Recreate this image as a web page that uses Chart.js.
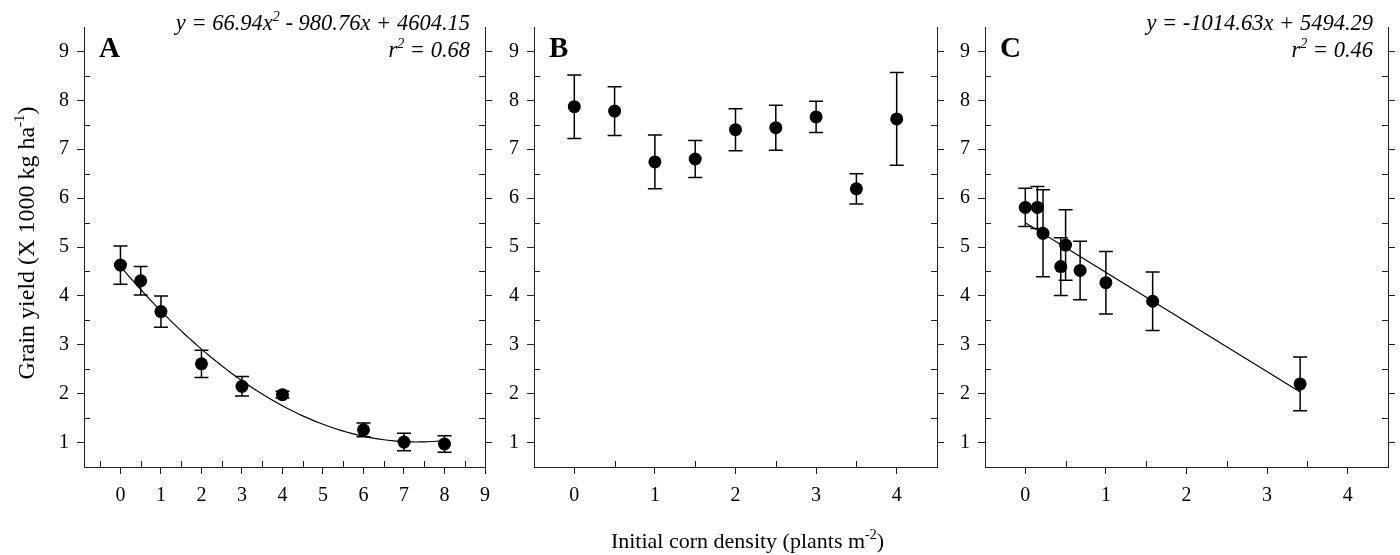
<!DOCTYPE html>
<html lang="en">
<head>
  <meta charset="UTF-8">
  <title>Grain yield vs initial corn density</title>
  <script src="https://cdn.jsdelivr.net/npm/chart.js@4.4.0/dist/chart.umd.min.js"></script>
  <style>
    html, body { margin: 0; padding: 0; background: #fff; }
    #wrap { position: relative; width: 1400px; height: 555px; }
    #wrap canvas { position: absolute; top: 0; }
  </style>
</head>
<body>
  <div id="wrap">
    <canvas id="chartA" width="500" height="555" style="left:0px"></canvas>
    <canvas id="chartB" width="449" height="555" style="left:500px"></canvas>
    <canvas id="chartC" width="451" height="555" style="left:949px"></canvas>
  </div>
  <script>
    // panel A: x = initial corn density, y = yield (1000 kg/ha), err = bar half-length
    const aX = [0, 0.5, 1, 2, 3, 4, 6, 7, 8];
    const aY = [4.63, 4.31, 3.68, 2.61, 2.15, 1.98, 1.26, 1.01, 0.97];
    const aErr = [0.39, 0.29, 0.32, 0.28, 0.20, 0.07, 0.14, 0.18, 0.17];
    const aFit = [66.94, -980.76, 4604.15];   // quadratic, kg/ha

    // panel B
    const bX = [0, 0.5, 1, 1.5, 2, 2.5, 3, 3.5, 4];
    const bY = [7.87, 7.78, 6.74, 6.80, 7.40, 7.44, 7.66, 6.19, 7.62];
    const bErr = [0.65, 0.50, 0.55, 0.38, 0.43, 0.46, 0.32, 0.31, 0.95];

    // panel C
    const cX = [0, 0.15, 0.22, 0.44, 0.50, 0.68, 1.0, 1.58, 3.41];
    const cY = [5.81, 5.81, 5.28, 4.60, 5.04, 4.52, 4.27, 3.89, 2.20];
    const cErr = [0.39, 0.43, 0.89, 0.59, 0.72, 0.60, 0.64, 0.60, 0.55];
    const cFit = [-1014.63, 5494.29];          // linear, kg/ha

    // ticks
    const yTicks = [1, 2, 3, 4, 5, 6, 7, 8, 9];
    const yMinor = [1.5, 2.5, 3.5, 4.5, 5.5, 6.5, 7.5, 8.5];
    const xTicksA = [0, 1, 2, 3, 4, 5, 6, 7, 8, 9];
    const xMinorA = [-0.5, 0.5, 1.5, 2.5, 3.5, 4.5, 5.5, 6.5, 7.5, 8.5];
    const xTicksBC = [0, 1, 2, 3, 4];
    const xMinorBC = [0.5, 1.5, 2.5, 3.5];

    const FONT = '"Liberation Serif", "Times New Roman", serif';
    const AXIS = '#222';

    // fitted curves from the printed regression equations
    const aCurve = [];
    for (let i = 0; i <= 80; i++) {
      const x = i / 10;
      aCurve.push({ x: x, y: (aFit[0] * x * x + aFit[1] * x + aFit[2]) / 1000 });
    }
    const cLine = [cX[0], cX[cX.length - 1]].map(x => ({ x: x, y: (cFit[0] * x + cFit[1]) / 1000 }));

    // text with superscripts: parts = [[text, isSup], ...]
    function drawRich(ctx, parts, x, y, align, size, style) {
      const base = style + ' ' + size + 'px ' + FONT;
      const sup = style + ' ' + Math.round(size * 0.62) + 'px ' + FONT;
      let w = 0;
      parts.forEach(p => { ctx.font = p[1] ? sup : base; w += ctx.measureText(p[0]).width; });
      let cx = align === 'right' ? x - w : (align === 'center' ? x - w / 2 : x);
      ctx.textAlign = 'left';
      ctx.textBaseline = 'alphabetic';
      parts.forEach(p => {
        ctx.font = p[1] ? sup : base;
        ctx.fillText(p[0], cx, p[1] ? y - size * 0.42 : y);
        cx += ctx.measureText(p[0]).width;
      });
    }

    // error bars, minor ticks and panel text
    const panelDeco = {
      id: 'panelDeco',
      beforeDatasetsDraw(chart, args, opts) {
        const ctx = chart.ctx, xs = chart.scales.x, ys = chart.scales.y;
        ctx.save();
        ctx.strokeStyle = '#000';
        ctx.lineWidth = 1.5;
        opts.xs.forEach((xv, i) => {
          const px = xs.getPixelForValue(xv);
          const top = ys.getPixelForValue(opts.ys[i] + opts.err[i]);
          const bot = ys.getPixelForValue(opts.ys[i] - opts.err[i]);
          ctx.beginPath();
          ctx.moveTo(px, top); ctx.lineTo(px, bot);
          ctx.moveTo(px - 7, top); ctx.lineTo(px + 7, top);
          ctx.moveTo(px - 7, bot); ctx.lineTo(px + 7, bot);
          ctx.stroke();
        });
        ctx.restore();
      },
      afterDraw(chart, args, opts) {
        const ctx = chart.ctx, a = chart.chartArea;
        const xs = chart.scales.x, ys = chart.scales.y;
        ctx.save();
        ctx.strokeStyle = AXIS;
        ctx.lineWidth = 1;
        ctx.beginPath();
        opts.xMinor.forEach(v => {
          const px = Math.round(xs.getPixelForValue(v)) + 0.5;
          ctx.moveTo(px, a.bottom); ctx.lineTo(px, a.bottom - 6);
        });
        yMinor.forEach(v => {
          const py = Math.round(ys.getPixelForValue(v)) + 0.5;
          ctx.moveTo(a.left, py); ctx.lineTo(a.left + 6, py);
          ctx.moveTo(a.right, py); ctx.lineTo(a.right - 6, py);
        });
        ctx.stroke();

        ctx.fillStyle = '#000';
        ctx.font = 'bold 29px ' + FONT;
        ctx.textAlign = 'left';
        ctx.textBaseline = 'alphabetic';
        ctx.fillText(opts.letter, a.left + 15, a.top + 30);
        if (opts.eq) {
          drawRich(ctx, opts.eq[0], a.right - 15, a.top + 3, 'right', 22.5, 'italic');
          drawRich(ctx, opts.eq[1], a.right - 15, a.top + 30, 'right', 22.5, 'italic');
        }
        if (opts.yTitle) {
          ctx.translate(26, (a.top + a.bottom) / 2 - 4);
          ctx.rotate(-Math.PI / 2);
          drawRich(ctx, [['Grain yield (X 1000 kg ha'], ['-1', 1], [')']], 0, 8, 'center', 24, 'normal');
          ctx.setTransform(1, 0, 0, 1, 0, 0);
        }
        if (opts.xTitle) {
          drawRich(ctx, [['Initial corn density (plants m'], ['-2', 1], [')']],
            (a.left + a.right) / 2 + 12, 548, 'center', 22, 'normal');
        }
        ctx.restore();
      }
    };

    function makePanel(id, xs, ys, err, fit, xMin, xMax, xTicks, xMinor, leftW, extra) {
      const datasets = [{
        type: 'scatter',
        data: xs.map((x, i) => ({ x: x, y: ys[i] })),
        pointRadius: 6.5,
        pointHoverRadius: 6.5,
        pointBackgroundColor: '#000',
        pointBorderColor: '#000',
        borderWidth: 0,
        order: 0
      }];
      if (fit) {
        datasets.push({
          type: 'line',
          data: fit,
          borderColor: '#000',
          borderWidth: 1.2,
          pointRadius: 0,
          tension: 0,
          fill: false,
          order: 2
        });
      }
      const tickFont = { family: FONT, size: 20 };
      return new Chart(document.getElementById(id), {
        type: 'scatter',
        data: { datasets: datasets },
        options: {
          responsive: false,
          animation: false,
          devicePixelRatio: 1,
          layout: { padding: { top: 27, left: 0, right: 0, bottom: 0 } },
          plugins: {
            legend: { display: false },
            tooltip: { enabled: false },
            panelDeco: Object.assign({ xs: xs, ys: ys, err: err, xMinor: xMinor }, extra)
          },
          scales: {
            x: {
              type: 'linear', min: xMin, max: xMax,
              afterBuildTicks: s => { s.ticks = xTicks.map(v => ({ value: v })); },
              afterFit: s => { s.height = 88; },
              ticks: { font: tickFont, color: '#000', padding: 10, maxRotation: 0 },
              grid: { drawOnChartArea: false, tickLength: 7, color: AXIS },
              border: { color: AXIS, width: 1 }
            },
            y: {
              type: 'linear', position: 'left', min: 0.5, max: 9.5,
              afterBuildTicks: s => { s.ticks = yTicks.map(v => ({ value: v })); },
              afterFit: s => { s.width = leftW; },
              ticks: { font: tickFont, color: '#000', padding: 8 },
              grid: { drawOnChartArea: false, tickLength: 7, color: AXIS },
              border: { color: AXIS, width: 1 }
            },
            y2: {
              type: 'linear', position: 'right', min: 0.5, max: 9.5,
              afterBuildTicks: s => { s.ticks = yTicks.map(v => ({ value: v })); },
              afterFit: s => { s.width = 12; },
              ticks: { display: false },
              grid: { drawOnChartArea: false, tickLength: 7, color: AXIS },
              border: { color: AXIS, width: 1 }
            }
          }
        },
        plugins: [panelDeco]
      });
    }

    makePanel('chartA', aX, aY, aErr, aCurve, -0.9, 9, xTicksA, xMinorA, 84, {
      letter: 'A',
      yTitle: true,
      eq: [[['y = 66.94x'], ['2', 1], [' - 980.76x + 4604.15']],
           [['r'], ['2', 1], [' = 0.68']]]
    });
    makePanel('chartB', bX, bY, bErr, null, -0.5, 4.5, xTicksBC, xMinorBC, 34, {
      letter: 'B',
      xTitle: true
    });
    makePanel('chartC', cX, cY, cErr, cLine, -0.5, 4.5, xTicksBC, xMinorBC, 36, {
      letter: 'C',
      eq: [[['y = -1014.63x + 5494.29']],
           [['r'], ['2', 1], [' = 0.46']]]
    });
  </script>
</body>
</html>
